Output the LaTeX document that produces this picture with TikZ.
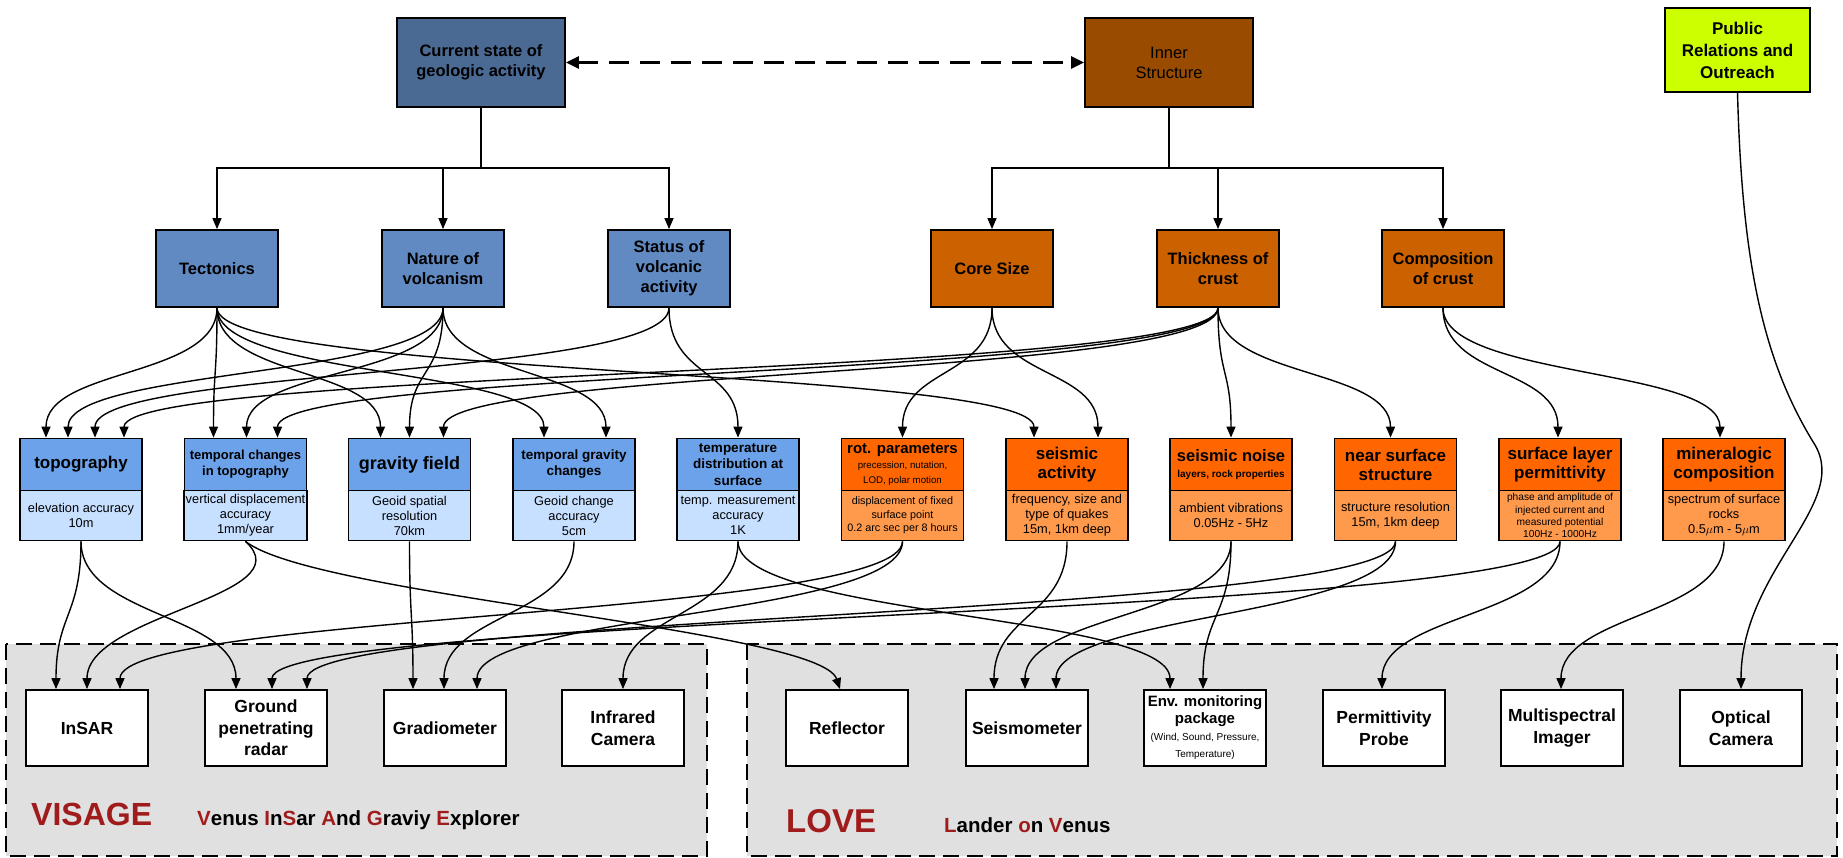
\documentclass[tikz,border=0pt]{standalone}
\usepackage{fontspec}
\setmainfont{Liberation Sans}
\usepackage{xcolor}
\usetikzlibrary{arrows.meta,positioning}

\definecolor{geoblue}{HTML}{4A6A94}
\definecolor{aimblue}{HTML}{6189C2}
\definecolor{reqblue}{HTML}{6CA2EA}
\definecolor{bodyblue}{HTML}{C7E0FF}
\definecolor{innerbrown}{HTML}{994C00}
\definecolor{aimorange}{HTML}{CC6100}
\definecolor{reqorange}{HTML}{FF6600}
\definecolor{bodyorange}{HTML}{FF9A4D}
\definecolor{prgreen}{HTML}{CCFF00}
\definecolor{framegray}{HTML}{E0E0E0}
\definecolor{visred}{HTML}{A01C1C}

\tikzset{
  box/.style={draw, line width=1.8pt, inner sep=2pt, align=center, font=\bfseries\fontsize{16.5}{20}\selectfont},
  topbox/.style={box, minimum width=168pt, minimum height=89pt},
  aimbox/.style={box, minimum width=122pt, minimum height=77pt},
  reqhead/.style={box, minimum width=122pt, minimum height=52pt, font=\bfseries\fontsize{17}{19}\selectfont},
  reqbody/.style={box, minimum width=122pt, minimum height=50pt, font=\fontsize{12.8}{15}\selectfont},
  instr/.style={box, fill=white, minimum width=122pt, minimum height=76pt, font=\bfseries\fontsize{17.5}{21.5}\selectfont},
  link/.style={line width=1.4pt, -{Triangle[length=11pt,width=9pt]}},
  dashlink/.style={line width=2.5pt, dash pattern=on 20pt off 11pt, {Triangle[length=13pt,width=12pt]}-{Triangle[length=13pt,width=12pt]}},
  mission/.style={draw, fill=framegray, line width=1.8pt, dash pattern=on 16pt off 8pt},
}

\begin{document}
\begin{tikzpicture}[x=1pt,y=-1pt]
\useasboundingbox (0,0) rectangle (1843,858);

% mission frames
\draw[mission] (6,644) rectangle (707,856);
\draw[mission] (747,644) rectangle (1837,856);
\node[anchor=base west, inner sep=0pt, text=visred, font=\bfseries\fontsize{32}{32}\selectfont] (visage) at (31,825) {VISAGE};
\node[anchor=base west, inner sep=0pt, font=\bfseries\fontsize{20.5}{24}\selectfont] (visage-long) at (197,825) {\textcolor{visred}{V}enus \textcolor{visred}{I}n\textcolor{visred}{S}ar \textcolor{visred}{A}nd \textcolor{visred}{G}raviy \textcolor{visred}{E}xplorer};
\node[anchor=base west, inner sep=0pt, text=visred, font=\bfseries\fontsize{33}{33}\selectfont] (love) at (786,832) {LOVE};
\node[anchor=base west, inner sep=0pt, font=\bfseries\fontsize{20.5}{24}\selectfont] (love-long) at (944,832) {\textcolor{visred}{L}ander \textcolor{visred}{o}n \textcolor{visred}{V}enus};

% science goals
\node[topbox, fill=geoblue] (geo) at (481,62.5) {Current state of\\geologic activity};
\node[topbox, fill=innerbrown, font=\fontsize{16.5}{20}\selectfont] (inner) at (1169,62.5) {Inner\\Structure};
\node[topbox, fill=prgreen, minimum width=145pt, minimum height=84pt, font=\bfseries\fontsize{17}{22}\selectfont] (pr) at (1737.5,50) {Public\\Relations and\\Outreach};

% objectives
\node[aimbox, fill=aimblue] (tect) at (217,268.5) {Tectonics};
\node[aimbox, fill=aimblue] (volc) at (443,268.5) {Nature of\\volcanism};
\node[aimbox, fill=aimblue] (status) at (669,268.5) {Status of\\volcanic\\activity};
\node[aimbox, fill=aimorange] (core) at (992,268.5) {Core Size};
\node[aimbox, fill=aimorange] (thick) at (1218,268.5) {Thickness of\\crust};
\node[aimbox, fill=aimorange] (comp) at (1443,268.5) {Composition\\of crust};

% measurement requirements
\node[reqhead, fill=reqblue] (topo) at (81,464.5) {topography};
\node[reqbody, fill=bodyblue, anchor=north] (topo-b) at ([yshift=1.8pt]topo.south) {elevation accuracy\\10m};
\node[reqhead, fill=reqblue, font=\bfseries\fontsize{13}{16}\selectfont] (tchg) at (245.5,464.5) {temporal changes\\in topography};
\node[reqbody, fill=bodyblue, anchor=north] (tchg-b) at ([yshift=1.8pt]tchg.south) {vertical displacement\\accuracy\\1mm/year};
\node[reqhead, fill=reqblue, font=\bfseries\fontsize{18}{20}\selectfont] (grav) at (409.5,464.5) {gravity field};
\node[reqbody, fill=bodyblue, anchor=north] (grav-b) at ([yshift=1.8pt]grav.south) {Geoid spatial\\resolution\\70km};
\node[reqhead, fill=reqblue, font=\bfseries\fontsize{13.5}{16}\selectfont] (tgrav) at (574,464.5) {temporal gravity\\changes};
\node[reqbody, fill=bodyblue, anchor=north] (tgrav-b) at ([yshift=1.8pt]tgrav.south) {Geoid change\\accuracy\\5cm};
\node[reqhead, fill=reqblue, font=\bfseries\fontsize{13.5}{16.5}\selectfont] (temp) at (738,464.5) {temperature\\distribution at\\surface};
\node[reqbody, fill=bodyblue, anchor=north] (temp-b) at ([yshift=1.8pt]temp.south) {temp. measurement\\accuracy\\1K};
\node[reqhead, fill=reqorange, font=\bfseries\fontsize{15}{15}\selectfont] (rot) at (902.5,464.5) {rot. parameters\\\fontsize{9.7}{12}\selectfont\mdseries precession, nutation,\\\fontsize{9.7}{12}\selectfont\mdseries LOD, polar motion};
\node[reqbody, fill=bodyorange, anchor=north, font=\fontsize{10.8}{13.3}\selectfont] (rot-b) at ([yshift=1.8pt]rot.south) {displacement of fixed\\surface point\\0.2 arc sec per 8 hours};
\node[reqhead, fill=reqorange] (seisact) at (1067,464.5) {seismic\\activity};
\node[reqbody, fill=bodyorange, anchor=north] (seisact-b) at ([yshift=1.8pt]seisact.south) {frequency, size and\\type of quakes\\15m, 1km deep};
\node[reqhead, fill=reqorange, font=\bfseries\fontsize{16.5}{16}\selectfont] (noise) at (1231,464.5) {seismic noise\\\fontsize{10}{12}\selectfont layers, rock properties};
\node[reqbody, fill=bodyorange, anchor=north] (noise-b) at ([yshift=1.8pt]noise.south) {ambient vibrations\\0.05Hz - 5Hz};
\node[reqhead, fill=reqorange] (nsurf) at (1395.5,464.5) {near surface\\structure};
\node[reqbody, fill=bodyorange, anchor=north] (nsurf-b) at ([yshift=1.8pt]nsurf.south) {structure resolution\\15m, 1km deep};
\node[reqhead, fill=reqorange] (perm) at (1560,464.5) {surface layer\\permittivity};
\node[reqbody, fill=bodyorange, anchor=north, font=\fontsize{10.2}{12.2}\selectfont] (perm-b) at ([yshift=1.8pt]perm.south) {phase and amplitude of\\injected current and\\measured potential\\100Hz - 1000Hz};
\node[reqhead, fill=reqorange] (miner) at (1724,464.5) {mineralogic\\composition};
\node[reqbody, fill=bodyorange, anchor=north] (miner-b) at ([yshift=1.8pt]miner.south) {spectrum of surface\\rocks\\0.5$\mu$m - 5$\mu$m};

% instruments
\node[instr] (insar) at (87,728) {InSAR};
\node[instr] (gpr) at (266,728) {Ground\\penetrating\\radar};
\node[instr] (grad) at (445,728) {Gradiometer};
\node[instr] (ir) at (623,728) {Infrared\\Camera};
\node[instr] (refl) at (847,728) {Reflector};
\node[instr] (seismo) at (1027,728) {Seismometer};
\node[instr, font=\bfseries\fontsize{15}{17}\selectfont] (env) at (1205,728) {Env. monitoring\\package\\\fontsize{10}{12}\selectfont\mdseries (Wind, Sound, Pressure,\\\fontsize{10}{12}\selectfont\mdseries Temperature)};
\node[instr] (probe) at (1384,728) {Permittivity\\Probe};
\node[instr] (msi) at (1562,728) {Multispectral\\Imager};
\node[instr] (optcam) at (1741,728) {Optical\\Camera};

% goals to objectives
\coordinate (geobar) at (481,168);
\coordinate (innerbar) at (1169,168);
\draw[line width=1.4pt] (geo.south) -- (geobar);
\draw[link] (geobar) -| (tect.north);
\draw[link] (geobar) -| (volc.north);
\draw[link] (geobar) -| (status.north);
\draw[line width=1.4pt] (inner.south) -- (innerbar);
\draw[link] (innerbar) -| (core.north);
\draw[link] (innerbar) -| (thick.north);
\draw[link] (innerbar) -| (comp.north);
\draw[dashlink] (geo.east) -- (inner.west);

% objectives to requirements
\draw[link] (tect.south) .. controls +(0,70) and +(0,-70) .. ([xshift=-35pt]topo.north);
\draw[link] (tect.south) .. controls +(0,70) and +(0,-70) .. ([xshift=-32pt]tchg.north);
\draw[link] (tect.south) .. controls +(0,70) and +(0,-70) .. ([xshift=-29pt]grav.north);
\draw[link] (tect.south) .. controls +(0,70) and +(0,-70) .. ([xshift=-30pt]tgrav.north);
\draw[link] (tect.south) .. controls +(0,70) and +(0,-70) .. ([xshift=-33pt]seisact.north);
\draw[link] (volc.south) .. controls +(0,70) and +(0,-70) .. ([xshift=-13pt]topo.north);
\draw[link] (volc.south) .. controls +(0,70) and +(0,-70) .. ([xshift=1pt]tchg.north);
\draw[link] (volc.south) .. controls +(0,70) and +(0,-70) .. (grav.north);
\draw[link] (volc.south) .. controls +(0,70) and +(0,-70) .. ([xshift=32pt]tgrav.north);
\draw[link] (status.south) .. controls +(0,70) and +(0,-70) .. ([xshift=14pt]topo.north);
\draw[link] (status.south) .. controls +(0,70) and +(0,-70) .. (temp.north);
\draw[link] (core.south) .. controls +(0,70) and +(0,-70) .. (rot.north);
\draw[link] (core.south) .. controls +(0,70) and +(0,-70) .. ([xshift=31pt]seisact.north);
\draw[link] (thick.south) .. controls +(0,70) and +(0,-70) .. ([xshift=43pt]topo.north);
\draw[link] (thick.south) .. controls +(0,70) and +(0,-70) .. ([xshift=32pt]tchg.north);
\draw[link] (thick.south) .. controls +(0,70) and +(0,-70) .. ([xshift=34pt]grav.north);
\draw[link] (thick.south) .. controls +(0,70) and +(0,-70) .. (noise.north);
\draw[link] (thick.south) .. controls +(0,70) and +(0,-70) .. ([xshift=-5pt]nsurf.north);
\draw[link] (comp.south) .. controls +(0,70) and +(0,-70) .. ([xshift=-2pt]perm.north);
\draw[link] (comp.south) .. controls +(0,70) and +(0,-70) .. ([xshift=-4pt]miner.north);

% requirements to instruments
\draw[link] (topo-b.south) .. controls +(0,75) and +(0,-75) .. ([xshift=-31pt]insar.north);
\draw[link] (topo-b.south) .. controls +(0,75) and +(0,-75) .. ([xshift=-30pt]gpr.north);
\draw[link] (tchg-b.south) .. controls +(60,55) and +(0,-75) .. (insar.north);
\draw[link] (tchg-b.south) .. controls +(70,55) and +(-20,-60) .. ([xshift=-7pt]refl.north);
\draw[link] (grav-b.south) .. controls +(0,75) and +(0,-75) .. ([xshift=-32pt]grad.north);
\draw[link] (tgrav-b.south) .. controls +(0,75) and +(0,-75) .. ([xshift=-1pt]grad.north);
\draw[link] (temp-b.south) .. controls +(0,75) and +(0,-75) .. (ir.north);
\draw[link] (temp-b.south) .. controls +(0,75) and +(0,-75) .. ([xshift=-35pt]env.north);
\draw[link] (rot-b.south) .. controls +(0,75) and +(0,-75) .. ([xshift=33pt]insar.north);
\draw[link] (rot-b.south) .. controls +(0,75) and +(0,-75) .. ([xshift=32pt]grad.north);
\draw[link] (seisact-b.south) .. controls +(0,75) and +(0,-75) .. ([xshift=-33pt]seismo.north);
\draw[link] (noise-b.south) .. controls +(0,75) and +(0,-75) .. ([xshift=-2pt]seismo.north);
\draw[link] (noise-b.south) .. controls +(0,75) and +(0,-75) .. ([xshift=-2pt]env.north);
\draw[link] (nsurf-b.south) .. controls +(0,75) and +(0,-75) .. ([xshift=29pt]seismo.north);
\draw[link] (nsurf-b.south) .. controls +(0,75) and +(0,-75) .. ([xshift=41pt]gpr.north);
\draw[link] (perm-b.south) .. controls +(0,75) and +(0,-75) .. ([xshift=-2pt]probe.north);
\draw[link] (perm-b.south) .. controls +(0,75) and +(0,-75) .. ([xshift=6pt]gpr.north);
\draw[link] (miner-b.south) .. controls +(0,75) and +(0,-75) .. ([xshift=-1pt]msi.north);
\draw[link] (pr.south) .. controls (1742,260) and (1762,360) .. (1815,445) .. controls (1850,505) and (1741,570) .. (optcam.north);
\end{tikzpicture}
\end{document}
